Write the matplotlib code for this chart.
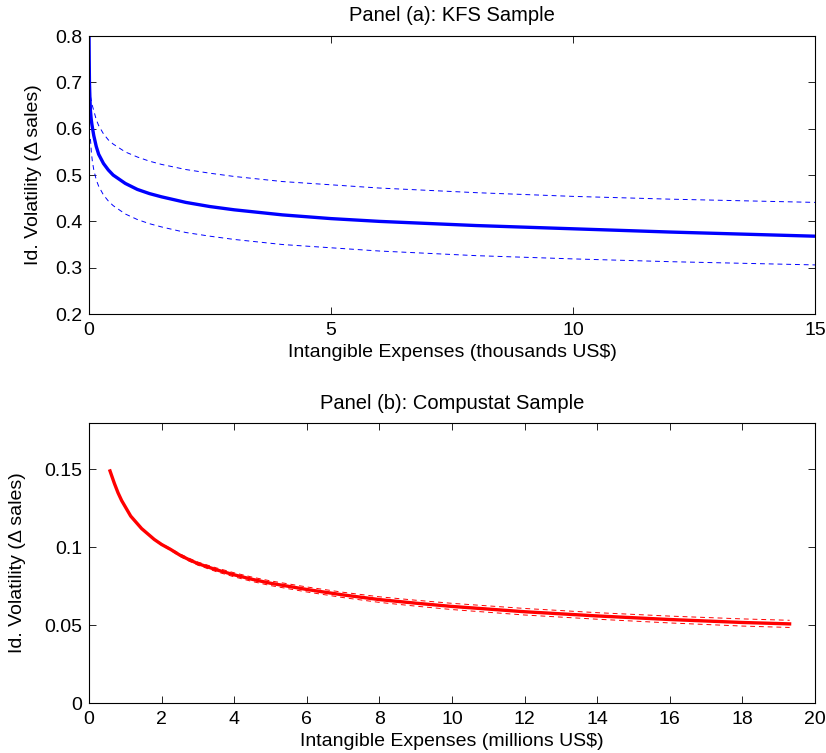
import matplotlib
matplotlib.use('Agg')
import matplotlib.pyplot as plt

plt.rcParams['font.family'] = ['Liberation Sans', 'DejaVu Sans']
plt.rcParams['font.size'] = 14

# Panel (a): KFS sample (thousands US$)
kfs_x = [0.0, 0.002, 0.005, 0.01, 0.02, 0.03, 0.045, 0.06, 0.08, 0.1, 0.15, 0.2, 0.3, 0.4,
         0.5, 0.75, 1.0, 1.25, 1.5, 2.0, 2.5, 3.0, 4.0, 5.0, 6.0, 8.0, 10.0, 12.0, 15.0]
kfs_mid = [0.82, 0.79, 0.75, 0.70, 0.665, 0.64, 0.622, 0.61, 0.597, 0.585, 0.562, 0.545,
           0.525, 0.511, 0.500, 0.482, 0.469, 0.460, 0.453, 0.441, 0.432, 0.425, 0.414,
           0.406, 0.400, 0.391, 0.384, 0.377, 0.368]
kfs_up_x = [0.03, 0.04, 0.05, 0.07, 0.1, 0.15, 0.2, 0.3, 0.4, 0.5, 0.75, 1.0, 1.25, 1.5,
            2.0, 2.5, 3.0, 4.0, 5.0, 6.0, 8.0, 10.0, 12.0, 15.0]
kfs_up = [0.67, 0.665, 0.66, 0.65, 0.639, 0.620, 0.607, 0.589, 0.576, 0.567, 0.550, 0.539,
          0.530, 0.523, 0.512, 0.504, 0.497, 0.486, 0.479, 0.472, 0.462, 0.454, 0.448, 0.441]
kfs_lo = [0.578, 0.565, 0.549, 0.530, 0.511, 0.490, 0.476, 0.457, 0.444, 0.434, 0.416,
          0.404, 0.395, 0.388, 0.376, 0.368, 0.361, 0.350, 0.343, 0.336, 0.326, 0.319,
          0.313, 0.306]

# Panel (b): Compustat sample (millions US$)
cs_x = [0.58, 0.7, 0.8, 0.9, 1.0, 1.15, 1.3, 1.45, 1.6, 1.8, 2.0, 2.25, 2.5, 2.75, 3.0, 3.5,
        4.0, 4.5, 5.0, 6.0, 7.0, 8.0, 9.0, 10.0, 12.0, 14.0, 16.0, 18.0, 19.3]
cs_mid = [0.149, 0.141, 0.135, 0.130, 0.126, 0.120, 0.116, 0.112, 0.109, 0.105, 0.1018,
          0.0986, 0.0950, 0.0921, 0.0895, 0.0856, 0.0823, 0.0794, 0.0769, 0.0729, 0.0694,
          0.0664, 0.0641, 0.0620, 0.0586, 0.0559, 0.0536, 0.0517, 0.0508]
cs_band = [0.0, 0.0, 0.0, 0.0, 0.0, 0.0, 0.0, 0.0, 0.0002, 0.0003, 0.0005, 0.0006, 0.0008,
           0.0009, 0.0010, 0.0012, 0.0013, 0.0014, 0.0015, 0.0016, 0.0017, 0.0018, 0.0019,
           0.0020, 0.0021, 0.0021, 0.0022, 0.0023, 0.0023]
cs_up = [m + b for m, b in zip(cs_mid, cs_band)]
cs_lo = [m - b for m, b in zip(cs_mid, cs_band)]

fig = plt.figure(figsize=(8.26, 7.53), dpi=100)
ax1 = fig.add_axes([0.1077, 0.583, 0.879, 0.369])
ax2 = fig.add_axes([0.1077, 0.0664, 0.879, 0.3723])

dash = (0, (5, 4))

ax1.plot(kfs_x, kfs_mid, color='#0000ff', lw=2.4, solid_capstyle='butt')
ax1.plot(kfs_up_x, kfs_up, color='#0000ff', lw=0.7, linestyle=dash)
ax1.plot(kfs_up_x, kfs_lo, color='#0000ff', lw=0.7, linestyle=dash)
ax1.set_xlim(0, 15)
ax1.set_ylim(0.2, 0.8)
ax1.set_xticks([0, 5, 10, 15])
ax1.set_yticks([0.2, 0.3, 0.4, 0.5, 0.6, 0.7, 0.8])
ax1.set_yticklabels(['0.2', '0.3', '0.4', '0.5', '0.6', '0.7', '0.8'])
ax1.set_title('Panel (a): KFS Sample', fontsize=14.5, pad=11)
ax1.set_xlabel('Intangible Expenses (thousands US$)', labelpad=3)
ax1.set_ylabel('Id. Volatility (\u0394 sales)', labelpad=9)

ax2.plot(cs_x, cs_up, color='#ff0000', lw=0.7, linestyle=dash)
ax2.plot(cs_x, cs_lo, color='#ff0000', lw=0.7, linestyle=dash)
ax2.plot(cs_x, cs_mid, color='#ff0000', lw=2.4)
ax2.set_xlim(0, 20)
ax2.set_ylim(0, 0.18)
ax2.set_xticks(range(0, 21, 2))
ax2.set_yticks([0, 0.05, 0.1, 0.15])
ax2.set_yticklabels(['0', '0.05', '0.1', '0.15'])
ax2.set_title('Panel (b): Compustat Sample', fontsize=14.5, pad=10)
ax2.set_xlabel('Intangible Expenses (millions US$)', labelpad=3)
ax2.set_ylabel('Id. Volatility (\u0394 sales)', labelpad=13)

for ax in (ax1, ax2):
    ax.tick_params(direction='in', top=True, right=True, length=5, width=0.6,
                   labelsize=14)
    ax.tick_params(axis='x', pad=6)
    ax.tick_params(axis='y', pad=5)
    for s in ax.spines.values():
        s.set_linewidth(0.8)

fig.savefig('out.png', dpi=100)
